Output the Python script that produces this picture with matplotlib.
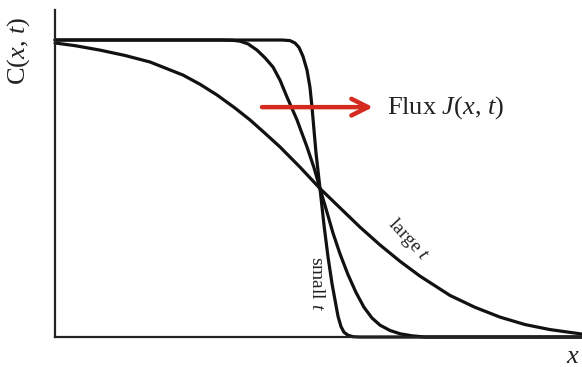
import matplotlib
matplotlib.use('Agg')
import matplotlib.pyplot as plt

plt.rcParams['font.family'] = ['Liberation Serif', 'DejaVu Serif']
plt.rcParams['mathtext.fontset'] = 'custom'
plt.rcParams['mathtext.rm'] = 'Liberation Serif'
plt.rcParams['mathtext.it'] = 'Liberation Serif:italic'

# concentration profiles C(x, t), position measured from the initial step
x_small = [-2.65, -0.38, -0.30, -0.25, -0.21, -0.17, -0.13, -0.10, -0.08, -0.04,
           0.00, 0.04, 0.08, 0.12, 0.15, 0.18, 0.21, 0.24, 0.28, 0.33, 0.40, 2.62]
c_small = [1.0, 1.0, 0.998, 0.990, 0.975, 0.945, 0.899, 0.840, 0.774, 0.620,
           0.50, 0.377, 0.270, 0.180, 0.125, 0.070, 0.035, 0.016, 0.006, 0.001, 0.0, 0.0]

x_mid = [-2.65, -1.00, -0.87, -0.80, -0.72, -0.63, -0.55, -0.47, -0.40, -0.33,
         -0.23, -0.13, -0.06, 0.00, 0.07, 0.13, 0.20, 0.28, 0.36, 0.44,
         0.52, 0.60, 0.70, 0.80, 0.92, 1.05, 2.62]
c_mid = [1.0, 1.0, 0.999, 0.996, 0.987, 0.966, 0.940, 0.909, 0.865, 0.808,
         0.731, 0.640, 0.570, 0.50, 0.420, 0.350, 0.280, 0.210, 0.150, 0.100,
         0.064, 0.040, 0.022, 0.011, 0.004, 0.0, 0.0]

x_large = [-2.65, -2.45, -2.20, -1.95, -1.70, -1.37, -1.20, -1.03, -0.85, -0.70,
           -0.55, -0.40, -0.20, 0.00, 0.20, 0.40, 0.60, 0.80, 1.00, 1.30,
           1.55, 1.80, 2.05, 2.30, 2.62]
c_large = [0.990, 0.981, 0.966, 0.948, 0.926, 0.882, 0.851, 0.815, 0.771, 0.731,
           0.686, 0.640, 0.572, 0.50, 0.435, 0.370, 0.310, 0.255, 0.205, 0.140,
           0.100, 0.067, 0.042, 0.025, 0.010]

fig = plt.figure(figsize=(5.82, 3.67), dpi=100)
ax = fig.add_axes([0.0945, 0.0817, 0.9055, 0.891])

for xs, cs in [(x_small, c_small), (x_mid, c_mid), (x_large, c_large)]:
    ax.plot(xs, cs, color='#111111', lw=2.3, solid_joinstyle='round',
            solid_capstyle='round', clip_on=False)

ax.set_xlim(-2.65, 2.62)
ax.set_ylim(0, 1.101)
ax.set_xticks([])
ax.set_yticks([])
for s in ['top', 'right']:
    ax.spines[s].set_visible(False)
for s in ['left', 'bottom']:
    ax.spines[s].set_linewidth(1.6)
    ax.spines[s].set_color('#222222')

# flux arrow
ax.annotate('', xy=(0.53, 0.774), xytext=(-0.58, 0.774),
            arrowprops=dict(arrowstyle='->,head_length=1.2,head_width=0.6',
                            color='#d42a20', lw=3.2, shrinkA=0, shrinkB=0))
ax.text(0.67, 0.774, 'Flux $J$($x$, $t$)', fontsize=19, va='center',
        ha='left', color='#222222')

ax.text(-0.03, 0.18, 'small $t$', fontsize=14, rotation=-90,
        ha='center', va='center', color='#222222')
ax.text(0.88, 0.327, 'large $t$', fontsize=14, rotation=-47,
        ha='center', va='center', color='#222222', rotation_mode='anchor')

fig.text(0.032, 0.86, 'C($x$, $t$)', fontsize=19, rotation=90,
         ha='center', va='center', color='#222222')
fig.text(0.996, 0.027, '$x$', fontsize=19, ha='right', va='center',
         color='#222222')

fig.savefig('out.png', dpi=100)
